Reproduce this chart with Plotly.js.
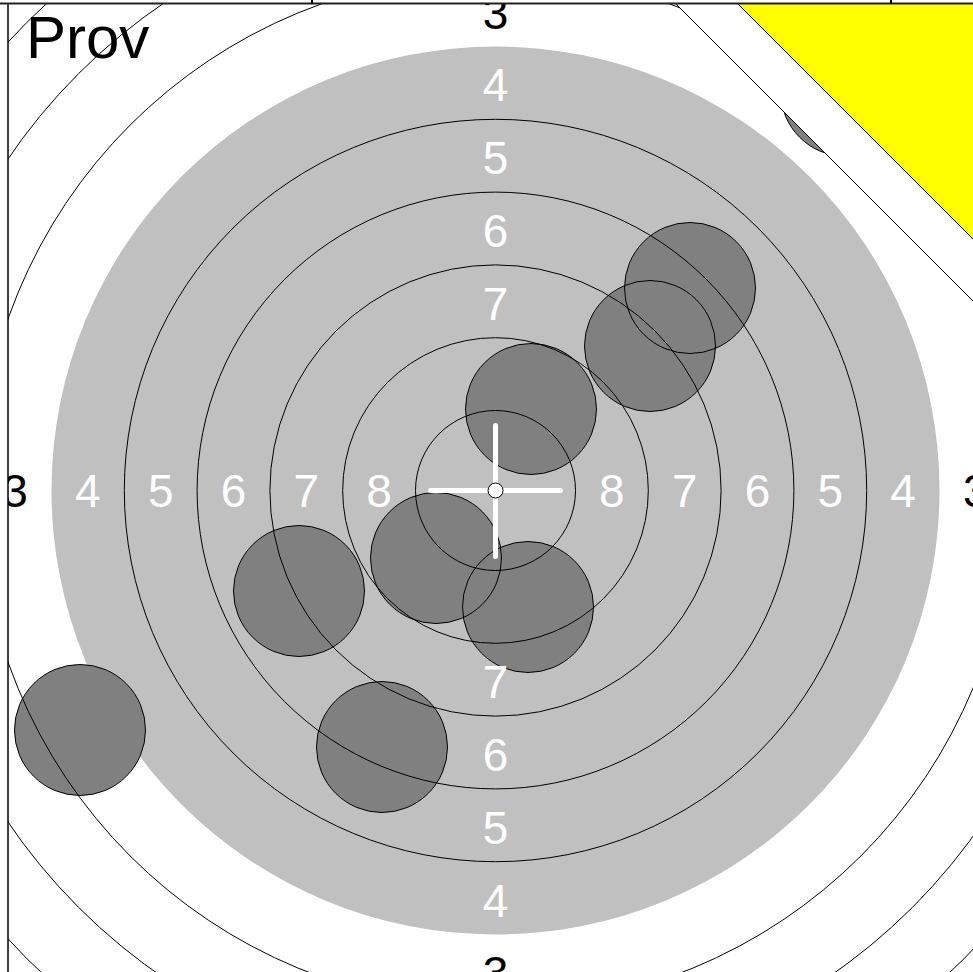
<!DOCTYPE html>
<html>
<head>
<meta charset="utf-8">
<script src="https://cdn.plot.ly/plotly-3.0.1.min.js"></script>
<style>html,body{margin:0;padding:0;background:#fff;}#chart{width:973px;height:972px;}</style>
</head>
<body>
<div id="chart"></div>
<script>
// ---- data ----
const titleText = 'Prov';
const ringRadii = [80, 152.8, 225.6, 298.4, 371.2, 516.8, 589.6, 662.4, 735.2];
const blackRadius = 444;
const ringLabelValues = [8, 7, 6, 5, 4, 3];
const ringLabelRadii = [116.4, 189.2, 262, 334.8, 407.6, 480.4];
const verticalLabelValues = [7, 6, 5, 4, 3];   // the 8 is only written sideways
const shotX = [194.5, 154.5, 35.5, -59.5, 32.5, -196.5, -113.5, -415.5, 350.5];
const shotY = [202.5, 144.5, 81.5, -67.5, -116.5, -100.5, -256.5, -239.5, 399.5];
const shotRadius = 65.5;
const cutLine = 667;     // x + y beyond which the target is covered
const yellowLine = 729;  // x + y beyond which the yellow corner lies

// ---- build ----
const shapes = [];
function circ(r, cx, cy, fill, line, lw, layer) {
  return {type: 'circle', xref: 'x', yref: 'y', x0: cx - r, x1: cx + r, y0: cy - r, y1: cy + r,
    fillcolor: fill, line: {color: line, width: lw}, layer: layer || 'below'};
}
shapes.push(circ(blackRadius, 0, 0, '#C0C0C0', 'rgba(0,0,0,0)', 0));
shotX.forEach((x, i) => shapes.push(circ(shotRadius, x, shotY[i], '#808080', 'rgba(0,0,0,0)', 0)));
ringRadii.forEach(r => shapes.push(circ(r, 0, 0, 'rgba(0,0,0,0)', '#000', 1)));
shotX.forEach((x, i) => shapes.push(circ(shotRadius, x, shotY[i], 'rgba(0,0,0,0)', '#000', 1)));
function corner(c, fill) {
  const d = 1500;
  return {type: 'path', xref: 'x', yref: 'y', layer: 'below',
    path: `M ${c - d} ${d} L ${c + d} ${-d} L ${c + d} ${d} Z`,
    fillcolor: fill, line: {color: '#000', width: 1}};
}
shapes.push(corner(cutLine, '#FFFFFF'));
shapes.push(corner(yellowLine, '#FFFF00'));
// crosshair
const arm = 65;
shapes.push({type: 'line', xref: 'x', yref: 'y', x0: -arm, x1: arm, y0: 0, y1: 0, line: {color: '#fff', width: 5}, layer: 'above'});
shapes.push({type: 'line', xref: 'x', yref: 'y', x0: 0, x1: 0, y0: -arm - 1, y1: arm, line: {color: '#fff', width: 5}, layer: 'above'});
[[-arm, 0], [arm, 0], [0, arm], [0, -arm - 1]].forEach(p => shapes.push(circ(2.5, p[0], p[1], '#fff', 'rgba(0,0,0,0)', 0, 'above')));
shapes.push(circ(7.5, 0, 0, '#fff', '#000', 1, 'above'));
// frame
const PW = 965, PH = 968;
shapes.push({type: 'line', xref: 'paper', yref: 'paper', x0: 0, x1: 0, y0: 0, y1: 1, line: {color: '#000', width: 1.5}});
shapes.push({type: 'line', xref: 'paper', yref: 'paper', x0: -8 / PW, x1: 1, y0: 1 + 0.5 / PH, y1: 1 + 0.5 / PH, line: {color: '#222', width: 2}});
[312, 891].forEach(px => shapes.push({type: 'line', xref: 'paper', yref: 'paper', x0: (px - 8) / PW, x1: (px - 8) / PW, y0: 1, y1: 1 + 5 / PH, line: {color: '#000', width: 2}}));

// ring labels: sideways (left/right) and up/down
const hx = [], hy = [], ht = [], hc = [];
const vx = [], vy = [], vt = [], vc = [];
ringLabelValues.forEach((v, i) => {
  const r = ringLabelRadii[i];
  const col = r < blackRadius ? '#FFFFFF' : '#000000';
  [r, -r].forEach(p => { hx.push(p); hy.push(0); ht.push(String(v)); hc.push(col); });
  if (verticalLabelValues.includes(v)) {
    [r, -r].forEach(p => { vx.push(0); vy.push(p); vt.push(String(v)); vc.push(col); });
  }
});
const labelFont = 'Liberation Sans, Arial, sans-serif';
function textTrace(x, y, t, c, dy) {
  return {type: 'scatter', mode: 'text', x: x, y: y.map(v => v + dy), text: t, textposition: 'middle center',
    textfont: {family: labelFont, size: 46, color: c}, hoverinfo: 'skip', showlegend: false, cliponaxis: true};
}
const traces = [textTrace(hx, hy, ht, hc, -4.5), textTrace(vx, vy, vt, vc, -7)];

const layout = {
  width: 973, height: 972,
  margin: {l: 8, r: 0, t: 4, b: 0, pad: 0},
  paper_bgcolor: '#fff', plot_bgcolor: '#fff',
  showlegend: false,
  xaxis: {range: [-487.5, 477.5], visible: false, fixedrange: true},
  yaxis: {range: [-481.5, 486.5], visible: false, fixedrange: true},
  shapes: shapes,
  annotations: [{
    text: titleText, xref: 'paper', yref: 'paper', x: 16 / PW, y: 1 + 2 / PH,
    xanchor: 'left', yanchor: 'top', showarrow: false,
    font: {family: labelFont, size: 60, color: '#000'}
  }]
};
Plotly.newPlot('chart', traces, layout, {staticPlot: true, displayModeBar: false});
</script>
</body>
</html>
